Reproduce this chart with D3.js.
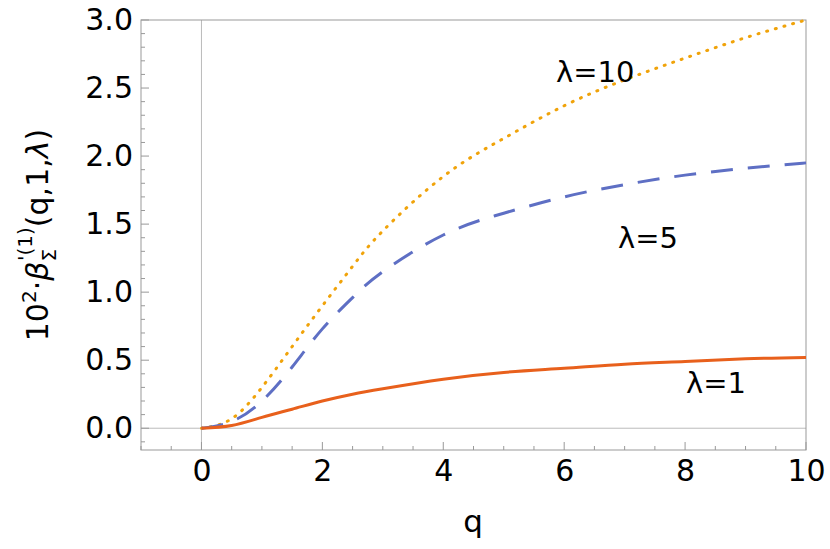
<!DOCTYPE html><html><head><script src="https://cdn.jsdelivr.net/npm/d3@7"></script>
<style>body{margin:0;background:#fff}text{font-family:"DejaVu Sans";}</style></head><body>
<svg id="c" width="830" height="549"></svg>
<script>
const qs=[0,0.5,1,1.5,2,2.5,3,4,5,6,7,8,9,10];
const l1=[0,0.02,0.08,0.14,0.2,0.25,0.29,0.36,0.41,0.44,0.47,0.49,0.51,0.52];
const l5=[0,0.05,0.2,0.45,0.73,0.96,1.15,1.42,1.58,1.7,1.79,1.86,1.91,1.95];
const l10=[0,0.07,0.3,0.6,0.9,1.19,1.45,1.85,2.13,2.37,2.56,2.72,2.87,3.0];
const xTicks=[0,2,4,6,8,10], yTicks=[0,0.5,1,1.5,2,2.5,3];
const svg=d3.select("#c");
const x=d3.scaleLinear([-1,10],[141,806]), y=d3.scaleLinear([-0.16,3],[450,20]);
svg.append("line").attr("x1",x(0)).attr("x2",x(0)).attr("y1",20).attr("y2",450).attr("stroke","#bbb");
svg.append("line").attr("x1",141).attr("x2",806).attr("y1",y(0)).attr("y2",y(0)).attr("stroke","#bbb");
svg.append("rect").attr("x",141).attr("y",20).attr("width",665).attr("height",430).attr("fill","none").attr("stroke","#999");
const gx=svg.append("g").attr("transform","translate(0,450)").call(d3.axisBottom(x).tickValues(xTicks).tickSize(0).tickPadding(10).tickFormat(d3.format("d")));
gx.select(".domain").remove(); gx.selectAll("text").attr("font-size",30).attr("font-family","DejaVu Sans");
const gy=svg.append("g").attr("transform","translate(141,0)").call(d3.axisLeft(y).tickValues(yTicks).tickSize(0).tickPadding(8).tickFormat(d3.format(".1f")));
gy.select(".domain").remove(); gy.selectAll("text").attr("font-size",30).attr("font-family","DejaVu Sans");
d3.range(-1,10.001,0.5).forEach(v=>{const maj=Math.abs(v/2-Math.round(v/2))<1e-6;
 svg.append("line").attr("x1",x(v)).attr("x2",x(v)).attr("y1",450).attr("y2",450-(maj?8:4)).attr("stroke","#999");});
d3.range(-0.1,3.001,0.1).forEach(v=>{const maj=Math.abs(v*2-Math.round(v*2))<1e-6;
 svg.append("line").attr("x1",141).attr("x2",141+(maj?8:4)).attr("y1",y(v)).attr("y2",y(v)).attr("stroke","#999");});
const line=d3.line().x((d,i)=>x(qs[i])).y(d=>y(d)).curve(d3.curveNatural);
svg.append("path").attr("d",line(l10)).attr("fill","none").attr("stroke","#f0a30a").attr("stroke-width",3).attr("stroke-dasharray","1,8").attr("stroke-linecap","round");
svg.append("path").attr("d",line(l5)).attr("fill","none").attr("stroke","#5e6fc4").attr("stroke-width",3).attr("stroke-dasharray","22,15");
svg.append("path").attr("d",line(l1)).attr("fill","none").attr("stroke","#e8601c").attr("stroke-width",3);
[["λ=10",556,82],["λ=5",618,248],["λ=1",686,393]].forEach(([t,a,b])=>svg.append("text").attr("x",a).attr("y",b).attr("font-size",29).text(t));
svg.append("text").attr("x",473).attr("y",532).attr("text-anchor","middle").attr("font-size",31).text("q");
const yl=svg.append("text").attr("transform","translate(48,235) rotate(-90)").attr("text-anchor","middle").attr("font-size",30);
yl.append("tspan").text("10");
yl.append("tspan").attr("font-size",20).attr("dy",-12).text("2");
yl.append("tspan").attr("dy",12).text("·");
yl.append("tspan").attr("font-style","italic").text("β");
yl.append("tspan").attr("font-size",20).attr("dy",8).text("Σ");
yl.append("tspan").attr("font-size",20).attr("dy",-24).attr("dx",-12).text("'(1)");
yl.append("tspan").attr("dy",16).text("(q,1,");
yl.append("tspan").attr("font-style","italic").text("λ");
yl.append("tspan").text(")");
</script></body></html>
